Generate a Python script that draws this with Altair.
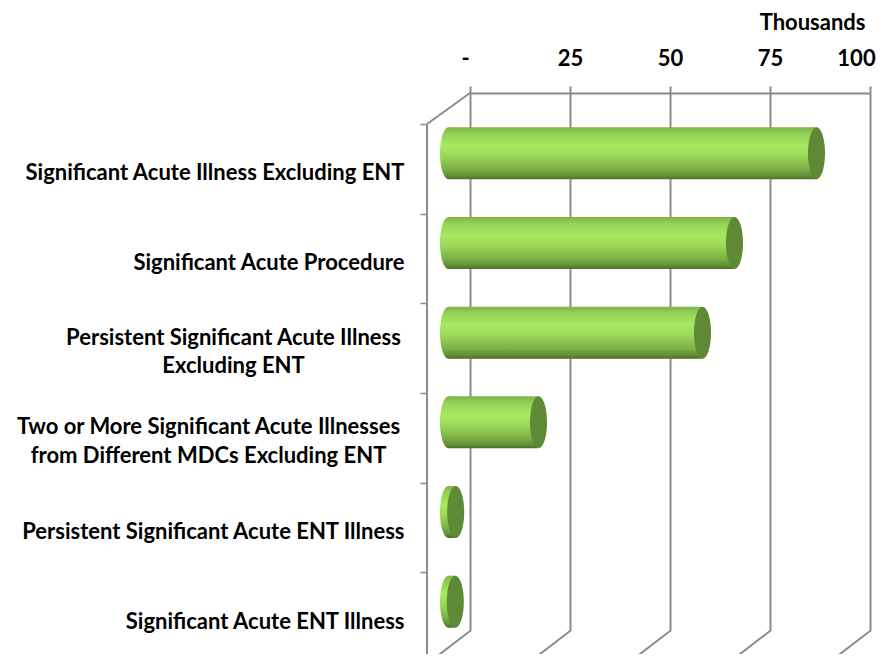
import altair as alt
import pandas as pd

# ---- data (values in thousands) ----
categories = [
    "Significant Acute Illness Excluding ENT",
    "Significant Acute Procedure",
    "Persistent Significant Acute Illness|Excluding ENT",
    "Two or More Significant Acute Illnesses|from Different MDCs Excluding ENT",
    "Persistent Significant Acute ENT Illness",
    "Significant Acute ENT Illness",
]
values_thousands = [92, 71.5, 63.5, 22.5, 1.8, 1.7]
tick_values = [0, 25, 50, 75, 100]

df = pd.DataFrame({"cat": categories, "value": values_thousands})
ticks_df = pd.DataFrame({"tick": tick_values})

# ---- styling constants ----
W, H = 400, 538
DEPTH_X, DEPTH_Y = -43, 31           # full depth offset (back wall -> front)
MID_X, MID_Y = DEPTH_X / 2, DEPTH_Y / 2
BAND = H / len(categories)
TICK_OFF = DEPTH_Y - BAND / 2
LABEL_OFF = DEPTH_Y + 4 - TICK_OFF
BAR_H = 52
GRID = "#8c8c8c"
FONT = "Lato"
FS = 22
CAP = "#5f8a35"

cyl = alt.Gradient(
    gradient="linear", x1=0, x2=0, y1=0, y2=1,
    stops=[
        alt.GradientStop(offset=0.0, color="#7db347"),
        alt.GradientStop(offset=0.12, color="#93d055"),
        alt.GradientStop(offset=0.35, color="#a8e961"),
        alt.GradientStop(offset=0.55, color="#9cd95a"),
        alt.GradientStop(offset=0.8, color="#7eb046"),
        alt.GradientStop(offset=0.94, color="#5f8c33"),
        alt.GradientStop(offset=1.0, color="#4a6e26"),
    ],
)

ELLIPSE = "M0,-1A0.327,1,0,1,1,0,1A0.327,1,0,1,1,0,-1Z"

xscale = alt.Scale(domain=[0, 100], nice=False, zero=True)
yscale = alt.Scale(domain=categories, paddingInner=0, paddingOuter=0)

lbl3 = categories[2]
lbl4 = categories[3]
two_line_test = f"datum.value == '{lbl3}' || datum.value == '{lbl4}'"

y_axis = alt.Axis(
    orient="left",
    title=None,
    offset=-DEPTH_X,
    domain=False,
    grid=False,
    ticks=True,
    tickOffset=TICK_OFF,
    tickSize=7,
    tickColor=GRID,
    tickWidth=1.5,
    labelOffset={"condition": {"test": two_line_test, "value": LABEL_OFF - 15}, "value": LABEL_OFF},
    labelFont=FONT,
    labelFontWeight="bold",
    labelFontSize=FS,
    labelColor="#000000",
    labelLineHeight=28.5,
    labelLimit=0,
    labelExpr="split(datum.label, '|')",
    labelAlign={"condition": {"test": two_line_test, "value": "center"}, "value": "right"},
    labelPadding={
        "condition": [
            {"test": f"datum.value == '{lbl3}'", "value": 187},
            {"test": f"datum.value == '{lbl4}'", "value": 212},
        ],
        "value": 16,
    },
)

x_axis = alt.Axis(
    orient="top",
    values=tick_values,
    title="Thousands",
    titleFont=FONT,
    titleFontWeight="bold",
    titleFontSize=FS,
    titleColor="#000000",
    titleAlign="right",
    titleAnchor="end",
    titleBaseline="alphabetic",
    titleX=395,
    titleY=-64,
    titleAngle=0,
    grid=True,
    gridColor=GRID,
    gridWidth=2,
    domain=True,
    domainColor=GRID,
    domainWidth=2,
    ticks=True,
    tickSize=7,
    tickColor=GRID,
    tickWidth=2,
    labelExpr="datum.value == 0 ? '-' : datum.label",
    labelFont=FONT,
    labelFontWeight="bold",
    labelFontSize=FS,
    labelColor="#000000",
    labelBaseline="alphabetic",
    labelPadding=21,
    labelAlign="center",
    labelFlush=False,
    labelOverlap=False,
    labelOffset={
        "condition": [
            {"test": "datum.value == 0", "value": -5},
            {"test": "datum.value == 100", "value": -14},
        ],
        "value": 0,
    },
)

X_Q = dict(scale=xscale, axis=x_axis, title="Thousands")
Y_N = dict(scale=yscale, sort=categories, axis=y_axis, title=None)

base = alt.Chart(df)

# cylinder body
bars = base.mark_bar(
    color=cyl, size=BAR_H, xOffset=MID_X, x2Offset=MID_X, yOffset=MID_Y,
).encode(
    x=alt.X("value:Q", **X_Q),
    y=alt.Y("cat:N", **Y_N),
)

# rounded near end of each cylinder (at zero)
left_cap = base.mark_point(
    shape=ELLIPSE, size=BAR_H * BAR_H, filled=True, fill=cyl, opacity=1,
    strokeWidth=0, xOffset=MID_X, yOffset=MID_Y,
).encode(
    x=alt.X(datum=0, **X_Q),
    y=alt.Y("cat:N", **Y_N),
)

# dark end face at the value
right_cap = base.mark_point(
    shape=ELLIPSE, size=BAR_H * BAR_H, filled=True, fill=CAP, opacity=1,
    strokeWidth=0, xOffset=MID_X, yOffset=MID_Y,
).encode(
    x=alt.X("value:Q", **X_Q),
    y=alt.Y("cat:N", **Y_N),
)

# floor depth lines from each back-wall gridline toward the viewer
floor = alt.Chart(ticks_df).mark_rule(
    color=GRID, strokeWidth=2, x2Offset=DEPTH_X,
).encode(
    x=alt.X("tick:Q", **X_Q),
    x2="tick:Q",
    y=alt.value(H),
    y2=alt.value(H + DEPTH_Y + 2),
)

# left wall: top depth edge and front vertical edge
wall_top = alt.Chart(ticks_df).transform_filter("datum.tick == 0").mark_rule(
    color=GRID, strokeWidth=2, x2Offset=DEPTH_X,
).encode(
    x=alt.X("tick:Q", **X_Q),
    x2="tick:Q",
    y=alt.value(0),
    y2=alt.value(DEPTH_Y),
)
wall_front = alt.Chart(ticks_df).transform_filter("datum.tick == 0").mark_rule(
    color=GRID, strokeWidth=2, xOffset=DEPTH_X,
).encode(
    x=alt.X("tick:Q", **X_Q),
    y=alt.value(DEPTH_Y),
    y2=alt.value(H + DEPTH_Y + 10),
)

chart = alt.layer(bars, floor, wall_top, wall_front, left_cap, right_cap).properties(
    width=W,
    height=H,
    padding={"left": 462, "top": 85, "right": 8, "bottom": 23},
    autosize=alt.AutoSizeParams(type="none"),
    background="#ffffff",
).configure_view(stroke=None)

chart.save("out.html", embed_options={"renderer": "svg", "actions": False})
